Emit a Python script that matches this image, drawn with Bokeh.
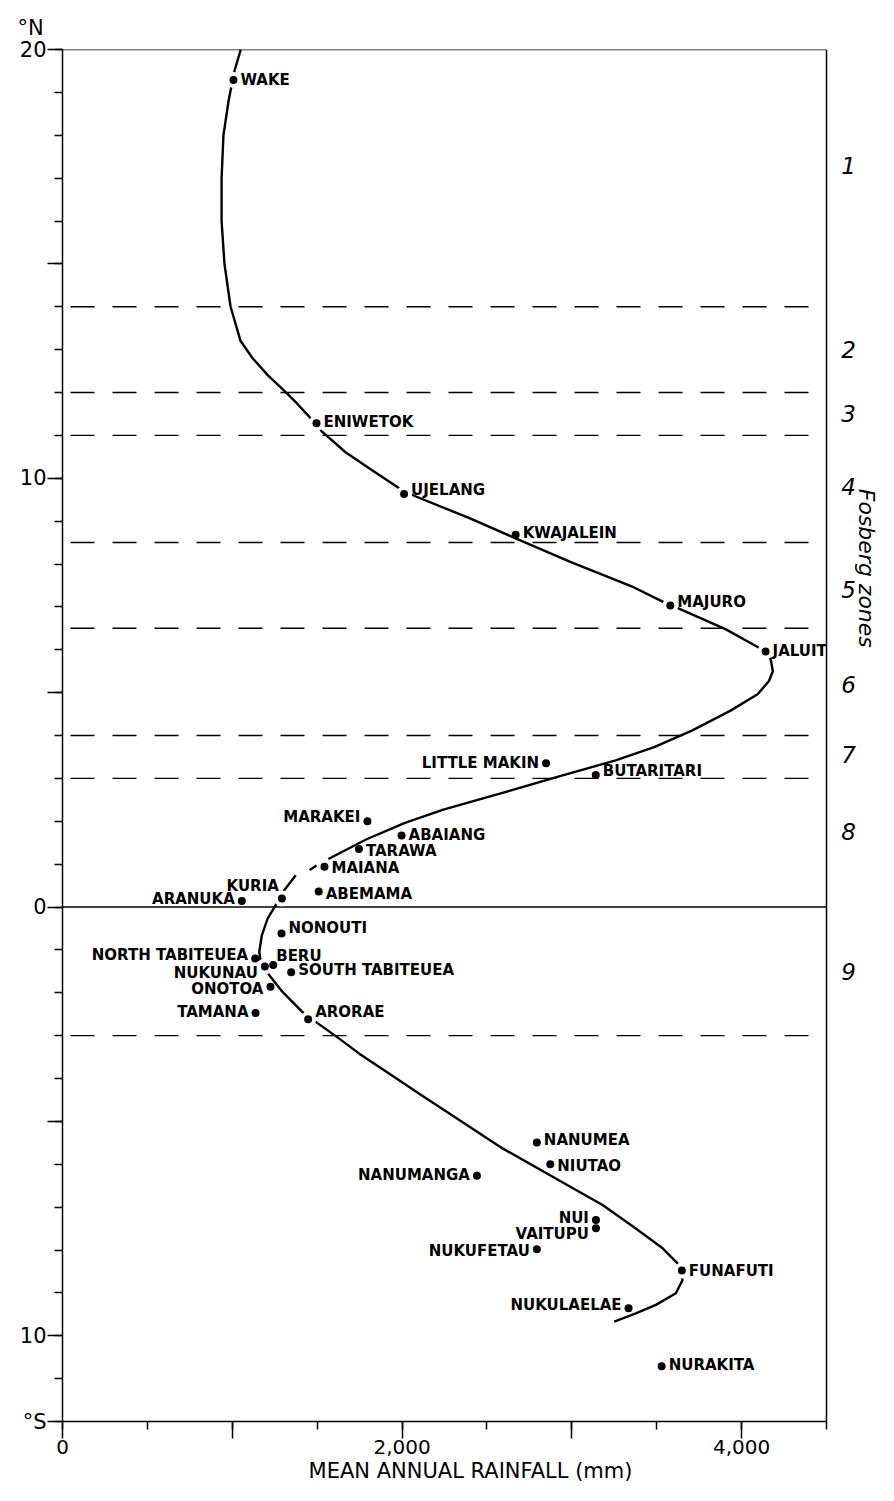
import numpy as np
from bokeh.plotting import figure
from bokeh.models import ColumnDataSource, FixedTicker, Range1d, Title
from bokeh.embed import file_html
from bokeh.resources import INLINE
from bokeh.core.properties import value

# ---------------- data ----------------
station_names = [
    "WAKE", "ENIWETOK", "UJELANG", "KWAJALEIN", "MAJURO", "JALUIT",
    "LITTLE MAKIN", "BUTARITARI", "MARAKEI", "ABAIANG", "TARAWA", "MAIANA",
    "ABEMAMA", "KURIA", "ARANUKA", "NONOUTI", "NORTH TABITEUEA", "BERU",
    "NUKUNAU", "SOUTH TABITEUEA", "ONOTOA", "TAMANA", "ARORAE",
    "NANUMEA", "NIUTAO", "NANUMANGA", "NUI", "VAITUPU", "NUKUFETAU",
    "FUNAFUTI", "NUKULAELAE", "NURAKITA",
]
station_rain = [
    1007, 1496, 2012, 2669, 3580, 4141,
    2848, 3141, 1796, 1997, 1746, 1543,
    1509, 1292, 1056, 1290, 1135, 1241,
    1192, 1347, 1225, 1137, 1447,
    2794, 2873, 2441, 3142, 3142, 2794,
    3648, 3334, 3529,
]
station_lat = [
    19.29, 11.28, 9.63, 8.68, 7.03, 5.96,
    3.35, 3.08, 2.00, 1.67, 1.35, 0.94,
    0.36, 0.20, 0.14, -0.62, -1.20, -1.35,
    -1.39, -1.52, -1.86, -2.47, -2.62,
    -5.49, -6.00, -6.27, -7.30, -7.49, -7.98,
    -8.48, -9.36, -10.71,
]

NaN = float("nan")
curve_rain = [
    1050, 1013, 978, 948, 937, 937, 954, 990, 1049, 1120, 1210, 1290, 1380,
    1450, 1525, 1669, 1837, 1981, 2078, 2390, 2669, 2991, 3352, 3532, 3641,
    3905, 4097, 4170, 4184, 4161, 4094, 3935, 3710, 3485, 3258, 2920, 2581,
    2243, 2017, 1791, 1566, NaN, 1496, 1455, NaN, 1374, 1306, 1267, 1208,
    1174, 1159, 1168, 1218, 1296, 1414, 1492, 1630, 1748, 1930, 2110, 2310,
    2592, 2887, 3181, 3377, 3535, 3623, 3652, 3613, 3495, 3377, 3250,
]
curve_lat = [
    20.0, 19.5, 18.8, 18.0, 17.0, 16.0, 15.0, 14.0, 13.2, 12.8, 12.4, 12.1, 11.75,
    11.45, 11.1, 10.6, 10.15, 9.77, 9.58, 9.08, 8.6, 8.05, 7.48, 7.13, 6.94,
    6.48, 6.06, 5.8, 5.5, 5.27, 4.96, 4.58, 4.12, 3.73, 3.42, 3.04, 2.65,
    2.27, 1.96, 1.58, 1.12, NaN, 0.97, 0.86, NaN, 0.74, 0.39, 0.12, -0.27,
    -0.66, -1.05, -1.28, -1.59, -1.98, -2.45, -2.68, -3.07, -3.42, -3.9, -4.38, -4.9,
    -5.63, -6.29, -6.95, -7.5, -7.96, -8.31, -8.7, -9.01, -9.28, -9.48, -9.67,
]

# stations whose dot interrupts the drawn curve
curve_break_names = ["WAKE", "ENIWETOK", "UJELANG", "MAJURO", "JALUIT",
                     "KURIA", "NUKUNAU", "BERU", "ARORAE", "FUNAFUTI"]

zone_bounds = [14, 12, 11, 8.5, 6.5, 4, 3, -3]
zone_labels = ["1", "2", "3", "4", "5", "6", "7", "8", "9"]

x_ticks = [0, 1000, 2000, 3000, 4000]
x_tick_labels = ["0", "", "2,000", "", "4,000"]
y_ticks = [20, 15, 10, 5, 0, -5, -10, -12]
y_tick_labels = ["20", "", "10", "", "0", "", "10", "°S"]

x_title = "MEAN ANNUAL RAINFALL (mm)"
zone_title = "Fosberg zones"
north_mark = "°N"

X_LO, X_HI = 0, 4500
Y_LO, Y_HI = -12, 20

# ---------------- layout / styling ----------------
zone_number_lat = [17.3, 13.0, 11.5, 9.8, 7.4, 5.2, 3.55, 1.75, -1.5]
zone_title_lat = 7.9

label_place = {
    "WAKE": ("r", 0), "ENIWETOK": ("r", 1), "UJELANG": ("r", 4),
    "KWAJALEIN": ("r", 2), "MAJURO": ("r", 4), "JALUIT": ("r", 0),
    "LITTLE MAKIN": ("l", 0), "BUTARITARI": ("r", 4), "MARAKEI": ("l", 4),
    "ABAIANG": ("r", 0), "TARAWA": ("r", -2), "MAIANA": ("r", -1),
    "ABEMAMA": ("r", -2), "KURIA": ("l", 12), "ARANUKA": ("l", 2),
    "NONOUTI": ("r", 6), "NORTH TABITEUEA": ("l", 3), "BERU": ("r", 9),
    "NUKUNAU": ("l", -6), "SOUTH TABITEUEA": ("r", 2), "ONOTOA": ("l", -2),
    "TAMANA": ("l", 1), "ARORAE": ("r", 7), "NANUMEA": ("r", 2),
    "NIUTAO": ("r", -2), "NANUMANGA": ("l", 1), "NUI": ("l", 2),
    "VAITUPU": ("l", -6), "NUKUFETAU": ("l", -2), "FUNAFUTI": ("r", 0),
    "NUKULAELAE": ("l", 3), "NURAKITA": ("r", 1),
}
x_off_special = {"KURIA": -3, "BERU": 3}

FONT = value("DejaVu Sans")
W, H = 878, 1485
LEFT, BOTTOM, TOP = 62, 63, 49
PLOT_PX = 764                      # pixels spanned by X_LO..X_HI
x_view_hi = X_HI * (W - LEFT) / PLOT_PX   # frame runs on to the canvas edge

p = figure(width=W, height=H,
           x_range=Range1d(X_LO, x_view_hi), y_range=Range1d(Y_LO, Y_HI),
           output_backend="svg", toolbar_location=None,
           min_border_left=LEFT, min_border_right=0,
           min_border_top=TOP, min_border_bottom=BOTTOM)
p.background_fill_color = "white"
p.border_fill_color = "white"
p.outline_line_color = None
p.xgrid.visible = False
p.ygrid.visible = False

xa = p.xaxis[0]
xa.bounds = (X_LO, X_HI)
xa.ticker = FixedTicker(ticks=x_ticks, minor_ticks=list(range(0, 4501, 500)))
xa.major_label_overrides = {t: s for t, s in zip(x_ticks, x_tick_labels)}
ya = p.yaxis[0]
ya.ticker = FixedTicker(ticks=y_ticks, minor_ticks=list(range(-12, 21)))
ya.major_label_overrides = {t: s for t, s in zip(y_ticks, y_tick_labels)}
for ax, out, fs in ((xa, 17, "20px"), (ya, 15, "21px")):
    ax.axis_line_color = "black"
    ax.axis_line_width = 1.5
    ax.major_tick_out = out
    ax.major_tick_in = 0
    ax.minor_tick_out = 8
    ax.minor_tick_in = 0
    ax.major_tick_line_color = "black"
    ax.major_tick_line_width = 1.5
    ax.minor_tick_line_color = "black"
    ax.minor_tick_line_width = 1.5
    ax.major_label_text_font = "DejaVu Sans"
    ax.major_label_text_font_size = fs
    ax.major_label_text_color = "black"
xa.major_label_standoff = 1
ya.major_label_standoff = 1
xa.axis_label = x_title
xa.axis_label_text_font = "DejaVu Sans"
xa.axis_label_text_font_style = "normal"
xa.axis_label_text_font_size = "21px"
xa.axis_label_text_color = "black"
xa.axis_label_standoff = 2

p.add_layout(Title(text=north_mark, align="left", offset=-45, standoff=20,
                   text_font="DejaVu Sans", text_font_style="normal",
                   text_font_size="21px", text_color="black"), "above")

# frame top and right edges
p.segment(x0=[X_LO, X_HI], y0=[Y_HI, Y_LO], x1=[X_HI, X_HI], y1=[Y_HI, Y_HI],
          line_color="black", line_width=1.5)

# zone boundaries and equator
p.segment(x0=[X_LO] * len(zone_bounds), y0=zone_bounds,
          x1=[X_HI] * len(zone_bounds), y1=zone_bounds,
          line_color="black", line_width=1.4, line_dash="24 18", line_dash_offset=-8)
p.segment(x0=[X_LO], y0=[0], x1=[X_HI], y1=[0], line_color="black", line_width=1.5)

# curve
p.line(np.array(curve_rain, dtype=float), np.array(curve_lat, dtype=float),
       line_color="black", line_width=2.4, line_join="round")

# white gaps where dots interrupt the curve
idx = [station_names.index(n) for n in curve_break_names]
p.scatter([station_rain[i] for i in idx], [station_lat[i] for i in idx],
          size=16, fill_color="white", line_color=None)

# dots
p.scatter(station_rain, station_lat, size=8, fill_color="black", line_color=None)

# station labels
for side in ("r", "l"):
    sel = [i for i, n in enumerate(station_names) if label_place[n][0] == side]
    src = ColumnDataSource(dict(
        x=[station_rain[i] for i in sel],
        y=[station_lat[i] for i in sel],
        t=[station_names[i] for i in sel],
        dx=[x_off_special.get(station_names[i], 7 if side == "r" else -7) for i in sel],
        dy=[-label_place[station_names[i]][1] for i in sel],
    ))
    p.text(x="x", y="y", text="t", x_offset="dx", y_offset="dy", source=src,
           text_font=FONT, text_font_style="bold", text_font_size="15px",
           text_color="black", text_baseline="middle",
           text_align="left" if side == "r" else "right")

# zone numbers and the zones caption beyond the right edge of the plot box
p.text(x=[X_HI] * len(zone_labels), y=zone_number_lat, text=zone_labels,
       x_offset=22, text_font=FONT, text_font_style="italic", text_font_size="23px",
       text_color="black", text_align="center", text_baseline="middle")
p.text(x=[X_HI], y=[zone_title_lat], text=[zone_title], angle=-np.pi / 2,
       x_offset=40, text_font=FONT, text_font_style="italic", text_font_size="22px",
       text_color="black", text_align="center", text_baseline="middle")

open("out.html", "w").write(file_html(p, INLINE))
